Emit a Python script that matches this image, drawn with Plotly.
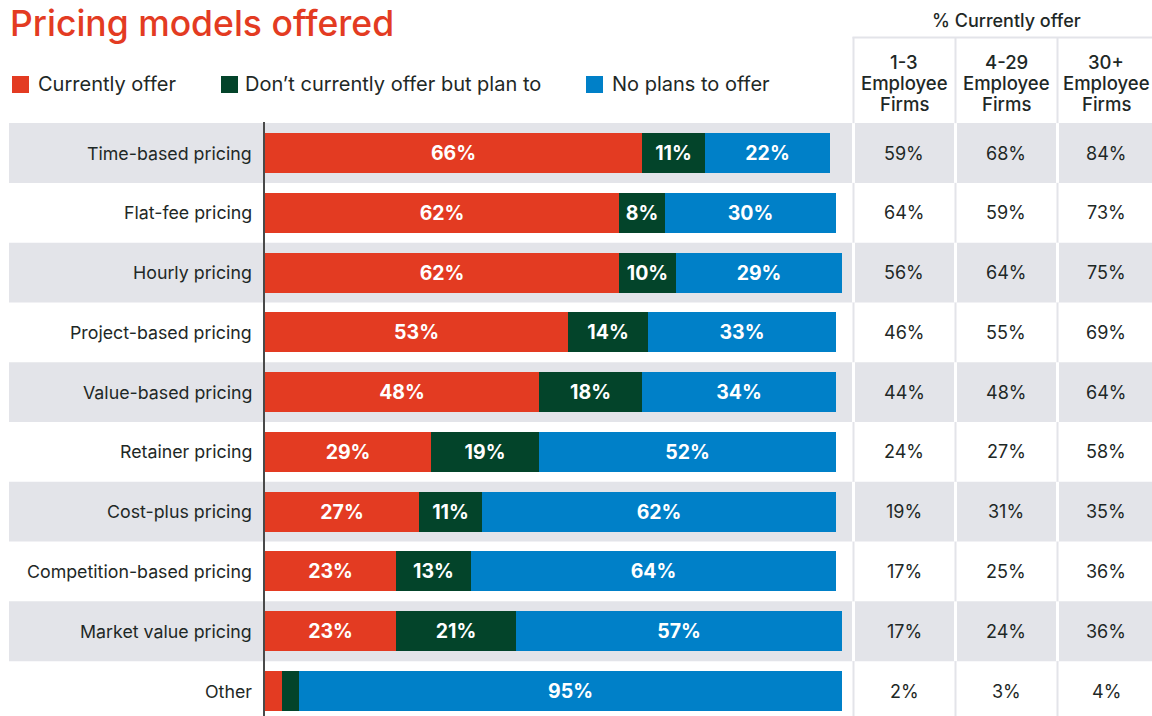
import plotly.graph_objects as go

# Survey results: share of firms by pricing model
categories = [
    "Time-based pricing", "Flat-fee pricing", "Hourly pricing",
    "Project-based pricing", "Value-based pricing", "Retainer pricing",
    "Cost-plus pricing", "Competition-based pricing", "Market value pricing",
    "Other",
]
currently_offer = [66, 62, 62, 53, 48, 29, 27, 23, 23, 3]
plan_to_offer = [11, 8, 10, 14, 18, 19, 11, 13, 21, 3]
no_plans = [22, 30, 29, 33, 34, 52, 62, 64, 57, 95]

series_names = ["Currently offer", "Don’t currently offer but plan to", "No plans to offer"]
series_colors = ["#E33B22", "#03442A", "#0080C8"]

# "% Currently offer" split by firm size
size_headers = [["1-3", "Employee", "Firms"], ["4-29", "Employee", "Firms"], ["30+", "Employee", "Firms"]]
firms_1_3 = [59, 64, 56, 46, 44, 24, 19, 17, 17, 2]
firms_4_29 = [68, 59, 64, 55, 48, 27, 31, 25, 24, 3]
firms_30_plus = [84, 73, 75, 69, 64, 58, 35, 36, 36, 4]

W, H = 1152, 716
FONT = "Inter"
TEXT = "#1E2826"
GRAY = "#E3E4E9"

# pixel geometry of the figure
ROW0, ROW_STEP = 153.0, 59.78     # centre of first row, row pitch
X0, PX_PER_PCT = 265.0, 5.71      # bar origin, pixels per percent


def px(x):
    return x / W


def py(y):
    return 1 - y / H


ypos = list(range(len(categories)))

fig = go.Figure()
for name, vals, color in zip(series_names, [currently_offer, plan_to_offer, no_plans], series_colors):
    fig.add_trace(go.Bar(
        y=ypos, x=vals, name=name, orientation="h",
        marker=dict(color=color, line=dict(width=0)),
        width=0.67,
        text=[f"{v}%" if v >= 5 else "" for v in vals],
        textposition="inside", insidetextanchor="middle",
        textfont=dict(family=FONT, size=19.5, color="white", weight="bold"),
        constraintext="none",
        showlegend=False,
        hoverinfo="skip",
    ))

shapes = []
col_edges = [853.5, 955.5, 1057.5]
col_centers = [904, 1006, 1106]

# table grid lines (sit underneath the row fills)
for cx in col_edges:
    shapes.append(dict(type="line", xref="paper", yref="paper",
                       x0=px(cx), x1=px(cx), y0=py(37), y1=py(H + 5),
                       line=dict(color=GRAY, width=2), layer="below"))
shapes.append(dict(type="line", xref="paper", yref="paper",
                   x0=px(852.5), x1=px(W + 2), y0=py(37.5), y1=py(37.5),
                   line=dict(color=GRAY, width=2), layer="below"))

# alternating row bands
for i in ypos:
    if i % 2 == 0:
        shapes.append(dict(type="rect", xref="paper", yref="y",
                           x0=px(9), x1=px(W + 2), y0=i - 0.5, y1=i + 0.5,
                           fillcolor=GRAY, line=dict(width=0), layer="below"))
        for cx in col_edges:
            shapes.append(dict(type="rect", xref="paper", yref="y",
                               x0=px(cx - 1.5), x1=px(cx + 1.5), y0=i - 0.5, y1=i + 0.5,
                               fillcolor="white", line=dict(width=0), layer="below"))

# category axis line
shapes.append(dict(type="line", xref="paper", yref="paper",
                   x0=px(264), x1=px(264), y0=py(122), y1=py(H + 5),
                   line=dict(color="#4A4A4A", width=2)))

annotations = []
# title
annotations.append(dict(text="Pricing models offered", xref="paper", yref="paper",
                        x=px(8), y=py(24), xanchor="left", yanchor="middle", showarrow=False,
                        font=dict(family=FONT, size=35.5, color="#E33B22", weight=500)))

# legend
legend_box_x = [12, 221, 586]
legend_text_x = [36, 243, 610]
for name, color, bx, tx in zip(series_names, series_colors, legend_box_x, legend_text_x):
    shapes.append(dict(type="rect", xref="paper", yref="paper",
                       x0=px(bx), x1=px(bx + 17), y0=py(76), y1=py(93),
                       fillcolor=color, line=dict(width=0)))
    annotations.append(dict(text=name, xref="paper", yref="paper",
                            x=px(tx), y=py(84), xanchor="left", yanchor="middle",
                            showarrow=False, font=dict(family=FONT, size=20, color=TEXT)))

# category labels
for i, cat in zip(ypos, categories):
    annotations.append(dict(text=cat, xref="paper", yref="y", x=px(254), y=i,
                            xanchor="right", yanchor="middle", showarrow=False,
                            font=dict(family=FONT, size=17.8, color=TEXT)))

# table header
annotations.append(dict(text="% Currently offer", xref="paper", yref="paper",
                        x=px(1006), y=py(20), xanchor="center", yanchor="middle", showarrow=False,
                        font=dict(family=FONT, size=18, color=TEXT, weight=500)))
header_line_y = [62, 83, 104]
for lines, cx in zip(size_headers, col_centers):
    for line, ly in zip(lines, header_line_y):
        annotations.append(dict(text=line, xref="paper", yref="paper",
                                x=px(cx), y=py(ly), xanchor="center", yanchor="middle",
                                showarrow=False,
                                font=dict(family=FONT, size=18.5, color=TEXT, weight=500)))

# table values
for col, cx in zip([firms_1_3, firms_4_29, firms_30_plus], col_centers):
    for i, v in zip(ypos, col):
        annotations.append(dict(text=f"{v}%", xref="paper", yref="y", x=px(cx), y=i,
                                xanchor="center", yanchor="middle", showarrow=False,
                                font=dict(family=FONT, size=18, color=TEXT)))

y_top = -ROW0 / ROW_STEP
y_bottom = (H - ROW0) / ROW_STEP

fig.update_layout(
    width=W, height=H,
    margin=dict(l=0, r=0, t=0, b=0),
    barmode="stack",
    bargap=0,
    paper_bgcolor="white", plot_bgcolor="rgba(0,0,0,0)",
    xaxis=dict(range=[-X0 / PX_PER_PCT, (W - X0) / PX_PER_PCT], domain=[0, 1],
               visible=False, fixedrange=True),
    yaxis=dict(range=[y_bottom, y_top], domain=[0, 1], visible=False, fixedrange=True),
    uniformtext=dict(minsize=19.5, mode="show"),
    shapes=shapes,
    annotations=annotations,
    font=dict(family=FONT),
)

fig.write_html("out.html")
